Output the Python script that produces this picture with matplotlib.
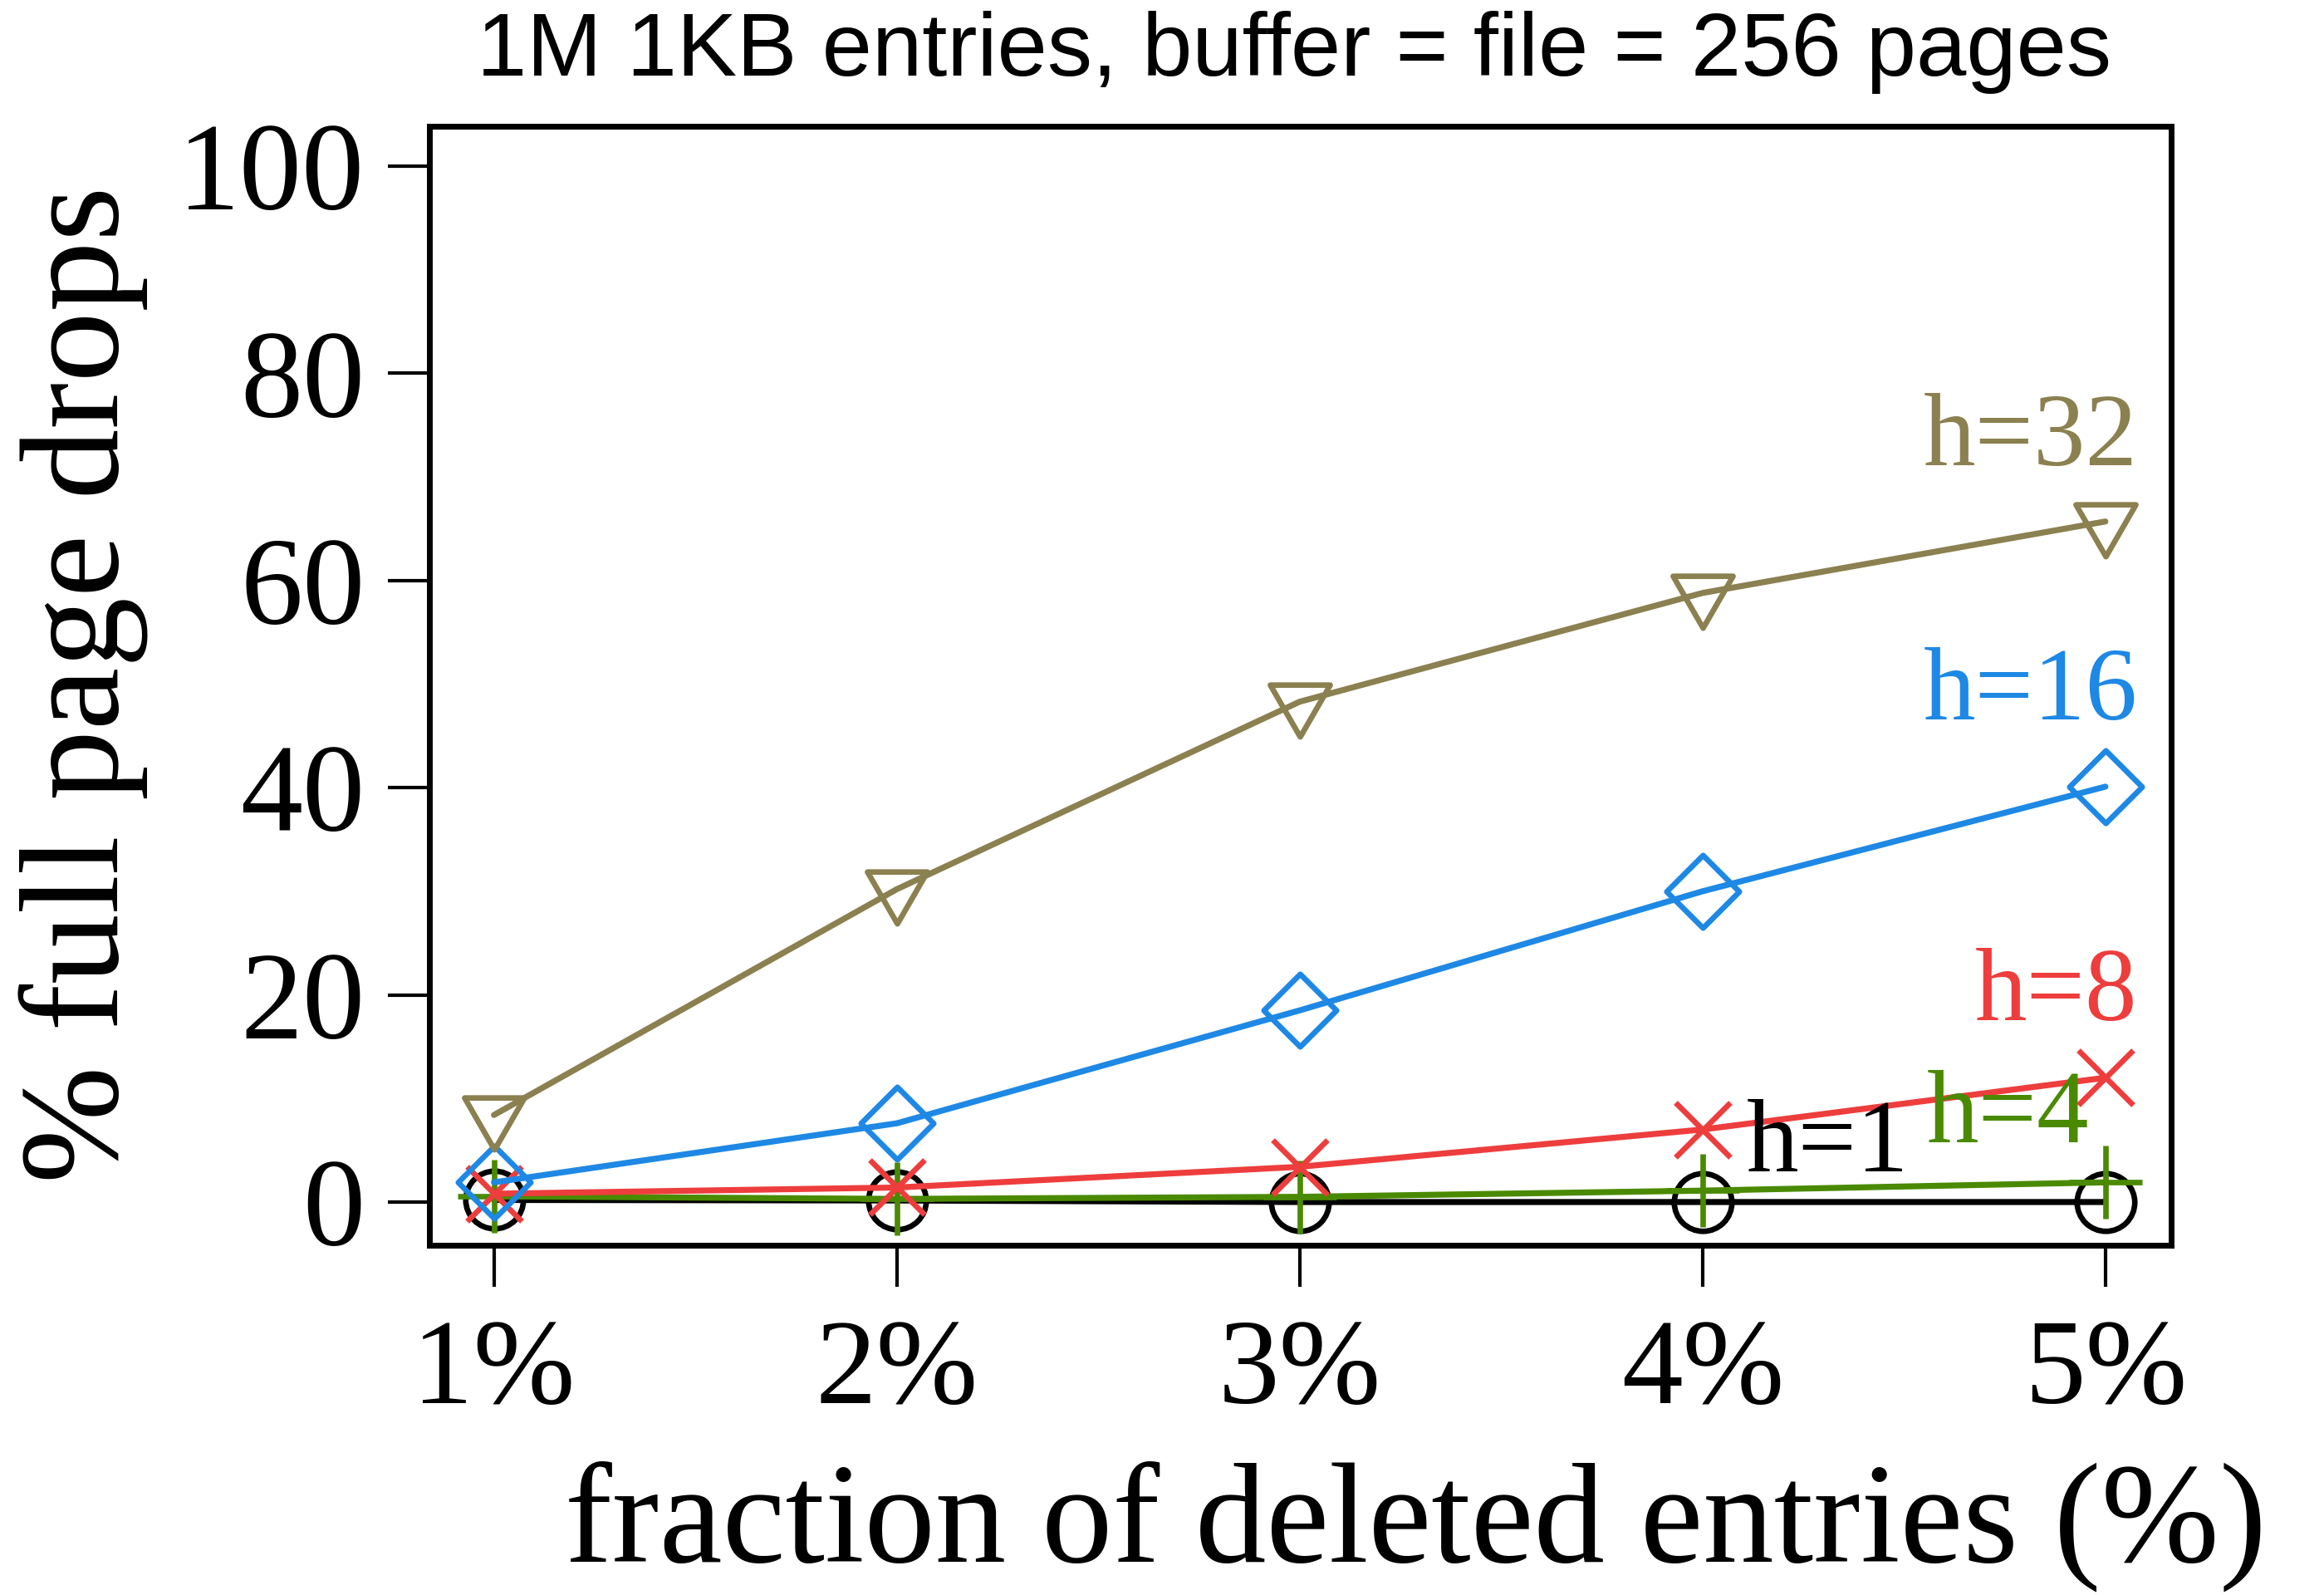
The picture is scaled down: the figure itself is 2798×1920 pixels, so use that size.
import matplotlib
matplotlib.use("Agg")
import matplotlib.pyplot as plt
from matplotlib.path import Path

fractions = [1, 2, 3, 4, 5]
xtick_labels = ["1%", "2%", "3%", "4%", "5%"]
yticks = [0, 20, 40, 60, 80, 100]

h1 = [0.2, 0.15, 0.0, 0.0, 0.0]
h4 = [0.55, 0.3, 0.5, 1.1, 1.9]
h8 = [0.8, 1.4, 3.4, 7.0, 12.0]
h16 = [1.9, 7.6, 18.5, 30.0, 40.1]
h32 = [8.4, 30.2, 48.3, 58.8, 65.7]

labels = ["h=1", "h=4", "h=8", "h=16", "h=32"]
colors = ["#000000", "#4A8A00", "#EE3D3D", "#1E88E5", "#8B8050"]

tri = Path([(-1, 0.577), (1, 0.577), (0, -1.155), (-1, 0.577)],
           [Path.MOVETO, Path.LINETO, Path.LINETO, Path.CLOSEPOLY])
diamond = Path([(0, 1), (1, 0), (0, -1), (-1, 0), (0, 1)],
               [Path.MOVETO, Path.LINETO, Path.LINETO, Path.LINETO, Path.CLOSEPOLY])

fig = plt.figure(figsize=(27.98, 19.20), dpi=100)
ax = fig.add_axes([0.1848, 0.2193, 0.7494, 0.7015])

serif = ["Liberation Serif", "DejaVu Serif"]

series = [h1, h4, h8, h16, h32]
markers = ["o", "+", "x", diamond, tri]
msizes = [50, 63, 47, 63, 60]
for vals, col, mk, ms in zip(series, colors, markers, msizes):
    ax.plot(fractions, vals, color=col, lw=5.2, marker=mk, ms=ms,
            mfc="none", mec=col, mew=4.8, solid_capstyle="round",
            solid_joinstyle="round")

ax.set_xlim(0.84, 5.163)
ax.set_ylim(-4.17, 103.85)
ax.set_xticks(fractions)
ax.set_xticklabels(xtick_labels, fontfamily=serif, fontsize=106)
ax.set_yticks(yticks)
ax.set_yticklabels([str(v) for v in yticks], fontfamily=serif, fontsize=108)
ax.tick_params(axis="both", length=36, width=3.0, direction="out")
ax.tick_params(axis="x", pad=28)
ax.tick_params(axis="y", pad=20)
for s in ax.spines.values():
    s.set_linewidth(5.0)

# series labels
lab_pos = {
    "h=32": (5.08, 73.5, "right"),
    "h=16": (5.08, 49.0, "right"),
    "h=8": (5.08, 20.0, "right"),
    "h=1": (4.11, 5.4, "left"),
    "h=4": (4.96, 8.2, "right"),
}
for lab, col in zip(labels, colors):
    x, y, ha = lab_pos[lab]
    ax.text(x, y, lab, color=col, fontfamily=serif, fontsize=90,
            ha=ha, va="center")

fig.text(0.557, 0.967, "1M 1KB entries, buffer = file = 256 pages",
         fontfamily=["Liberation Sans", "DejaVu Sans"], fontsize=78,
         ha="center", va="center")
fig.text(0.609, 0.043, "fraction of deleted entries (%)", fontfamily=serif,
         fontsize=123, ha="center", va="center")
fig.text(0.036, 0.571, "% full page drops", fontfamily=serif, fontsize=122,
         ha="center", va="center", rotation=90)

fig.savefig("out.png", dpi=100)
